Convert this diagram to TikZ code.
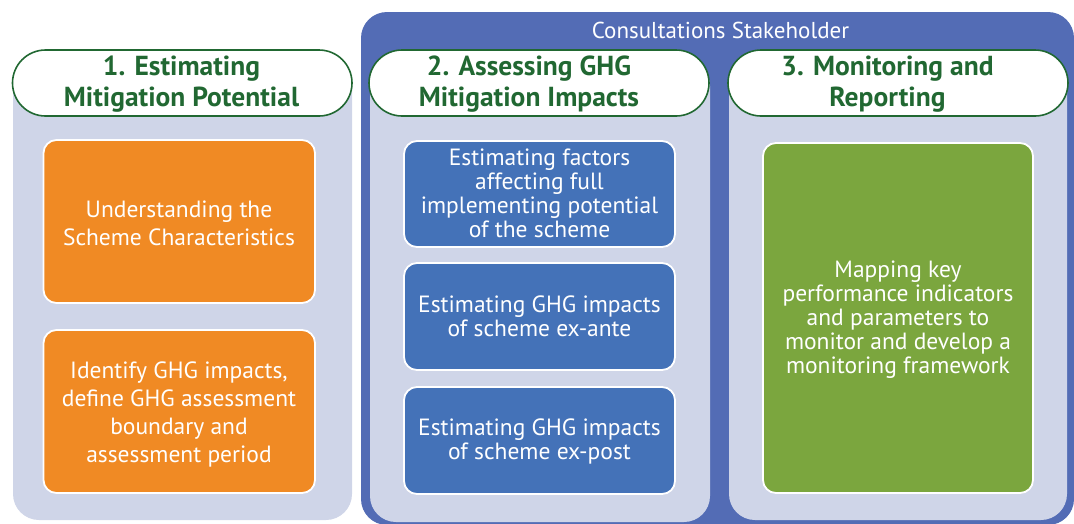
\documentclass[tikz,border=0pt]{standalone}
\usepackage{fontspec}
\setmainfont{PT Sans}
\definecolor{outerblue}{HTML}{536CB5}
\definecolor{panel}{HTML}{CFD5E8}
\definecolor{hdrgreen}{HTML}{216832}
\definecolor{orangebox}{HTML}{F08A24}
\definecolor{bluebox}{HTML}{4472B8}
\definecolor{greenbox}{HTML}{7BA63E}
\tikzset{
  panelbox/.style={fill=panel, draw=none, rounded corners=26pt},
  pill/.style={fill=white, draw=hdrgreen, line width=1.6pt, rounded corners=33pt},
  hdrtext/.style={font=\fontsize{27.5}{31}\selectfont\bfseries, text=hdrgreen, align=center},
  cardbox/.style={draw=white, line width=1.8pt, rounded corners=13pt},
  cardtext/.style={text=white, align=center, font=\fontsize{23.5}{24}\selectfont},
  cardtextwide/.style={text=white, align=center, font=\fontsize{23.5}{28}\selectfont},
}
\begin{document}
\begin{tikzpicture}[x=1pt,y=-1pt]
\useasboundingbox (0,0) rectangle (1074,523);
\begin{scope}
\clip (0,0) rectangle (1074,523);
\fill[outerblue, rounded corners=26pt] (361,12) rectangle (1074,525);
\end{scope}
\node[text=white, font=\fontsize{23}{26}\selectfont] (stake) at (720.5,30) {Consultations Stakeholder};
% panels
\fill[panelbox] (13,60) rectangle (352,520);
\fill[panelbox] (370,60) rectangle (710,522);
\fill[panelbox] (729,60) rectangle (1067,520);
% pills
\draw[pill] (12.5,50) rectangle (352,116);
\draw[pill] (369,50) rectangle (709,116);
\draw[pill] (728,50) rectangle (1068,116);
\node[hdrtext] (h1) at (181.5,84) {1. Estimating\\Mitigation Potential};
\node[hdrtext] (h2) at (529,84) {2. Assessing GHG\\Mitigation Impacts};
\node[hdrtext] (h3) at (887.5,84) {3. Monitoring and\\Reporting};
% orange cards
\draw[cardbox, fill=orangebox] (43.5,140) rectangle (315,303);
\node[cardtextwide] (o1) at (179,223) {Understanding the\\Scheme Characteristics};
\draw[cardbox, fill=orangebox] (43.5,330) rectangle (315,493);
\node[cardtextwide] (o2) at (179,414) {Identify GHG impacts,\\define GHG assessment\\boundary and\\assessment period};
% blue cards
\draw[cardbox, fill=bluebox] (404,141) rectangle (675,247);
\node[cardtext] (b1) at (539.5,193) {Estimating factors\\affecting full\\implementing potential\\of the scheme};
\draw[cardbox, fill=bluebox] (404,263) rectangle (675,370);
\node[cardtext] (b2) at (539.5,316) {Estimating GHG impacts\\of scheme ex-ante};
\draw[cardbox, fill=bluebox] (404,387) rectangle (675,494);
\node[cardtext] (b3) at (539.5,441) {Estimating GHG impacts\\of scheme ex-post};
% green card
\draw[cardbox, fill=greenbox] (763,143) rectangle (1033,493);
\node[cardtext] (g1) at (898,320) {Mapping key\\performance indicators\\and parameters to\\monitor and develop a\\monitoring framework};
\end{tikzpicture}
\end{document}
